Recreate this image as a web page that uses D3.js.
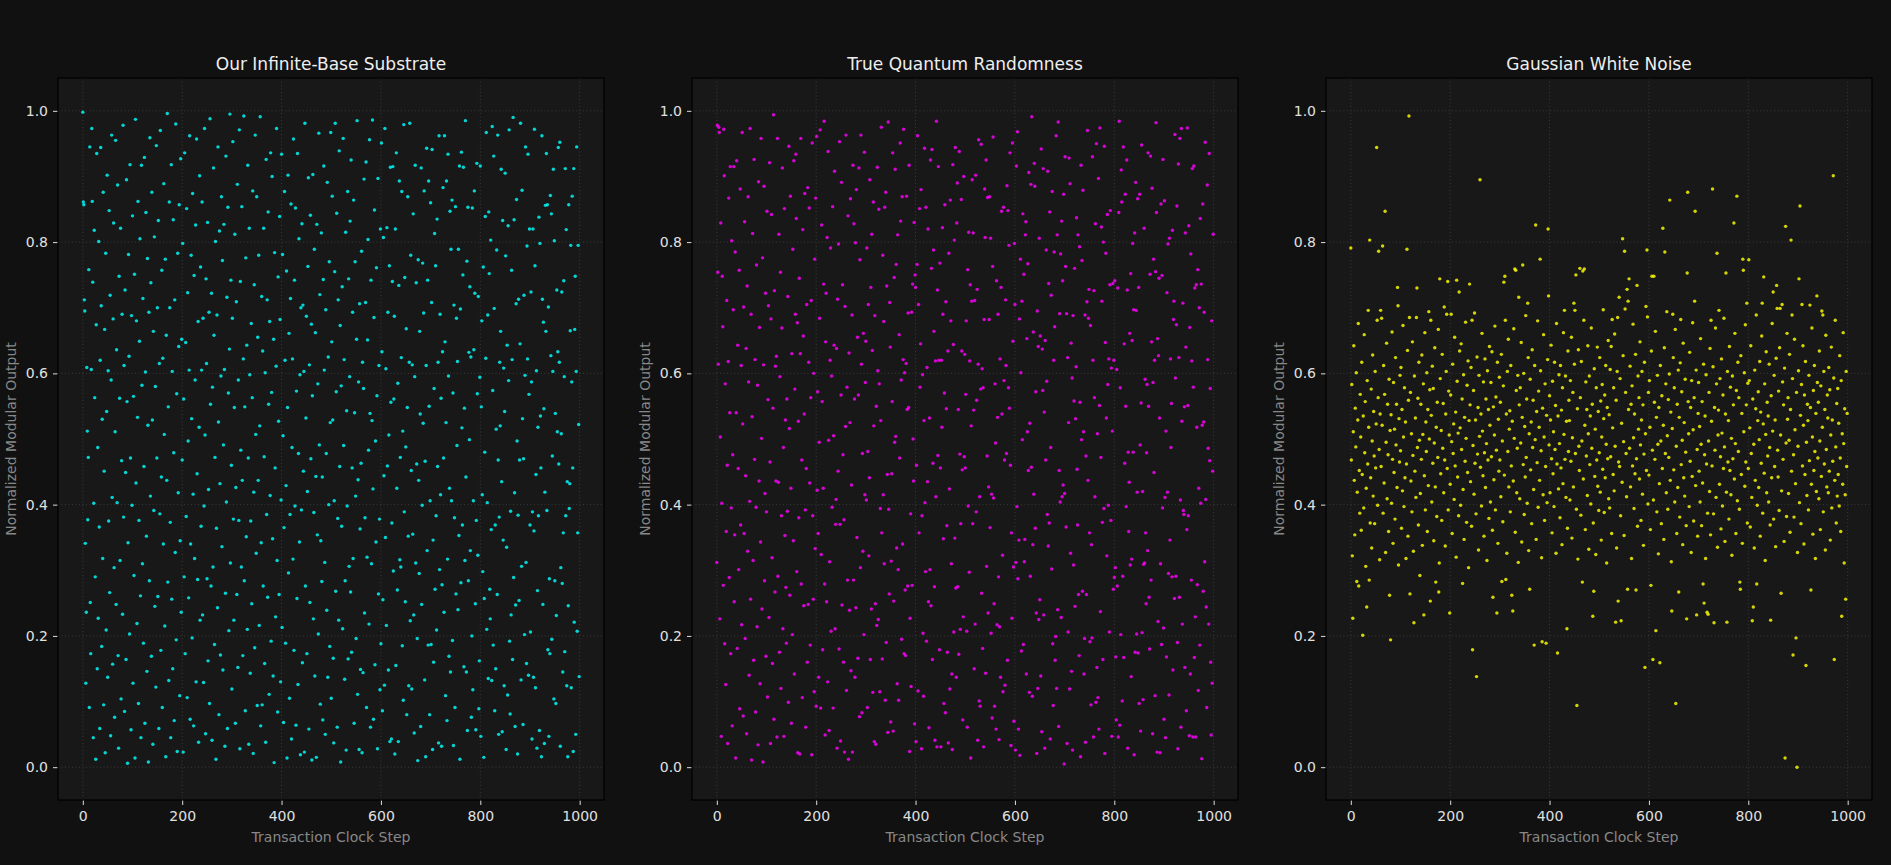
<!DOCTYPE html>
<html>
<head>
<meta charset="utf-8">
<script src="https://cdn.jsdelivr.net/npm/d3@7"></script>
<style>
  body { margin: 0; background: #111111; }
  svg { display: block; }
  text { font-family: "DejaVu Sans", sans-serif; }
</style>
</head>
<body>
<svg id="chart" width="1891" height="865"></svg>
<script>
// panel titles, colours and ticks
var titles = ["Our Infinite-Base Substrate", "True Quantum Randomness", "Gaussian White Noise"];
var colors = ["#00ffff", "#ff00ff", "#ffff00"];
var xTicks = [0, 200, 400, 600, 800, 1000];
var yTicks = [0, 0.2, 0.4, 0.6, 0.8, 1.0];

// outputs per clock step (index = step), in thousandths
var substrate = [
998,861,857,712,695,341,128,236,609,512,377,472,758,91,945,251,173,606,973,862,
739,45,402,818,563,290,12,674,935,150,487,227,801,366,59,620,944,703,184,530,
318,876,95,451,667,22,783,209,542,902,137,604,375,848,266,719,48,590,963,411,
157,683,829,304,76,511,955,248,636,403,887,170,29,748,562,315,821,104,467,690,
233,978,381,612,85,727,449,164,895,557,6,342,781,626,203,918,471,57,688,399,
840,128,565,292,751,14,987,433,680,219,533,862,97,376,649,805,261,45,917,582,
310,714,189,458,929,67,602,845,352,146,775,521,8,693,284,959,413,738,169,876,
529,35,664,391,808,245,580,122,947,471,700,260,833,59,615,386,970,178,442,757,
91,623,340,889,507,215,774,16,658,437,996,282,549,132,861,700,373,45,918,256,
603,150,834,479,71,712,327,980,194,569,24,783,418,641,857,109,345,927,236,652,
468,798,23,561,290,936,173,647,382,851,106,723,497,258,605,962,73,340,780,531,
197,874,416,63,749,318,590,826,130,957,447,286,679,38,518,901,224,762,367,605,
861,232,684,129,398,973,506,51,744,615,287,830,162,423,693,97,988,553,276,722,
41,579,305,913,658,187,472,801,12,364,689,243,945,526,80,817,432,171,596,869,
336,772,148,491,827,606,32,265,931,404,716,59,853,570,208,637,995,311,742,460,
119,684,953,378,224,548,812,67,426,709,263,888,152,590,376,971,28,740,483,305,
854,437,170,622,992,284,549,86,776,351,643,210,917,471,35,821,598,143,375,676,
249,563,878,21,419,735,182,963,507,326,869,94,655,437,780,216,520,991,63,342,
717,95,634,276,821,473,158,601,38,926,385,712,259,846,553,111,679,414,936,192,
571,900,348,139,652,7,784,456,229,611,973,315,84,747,527,263,839,682,130,407,
934,213,781,505,68,365,877,620,189,429,756,14,548,902,296,661,105,385,714,858,
43,487,622,317,957,178,742,398,852,64,573,257,935,126,478,805,343,598,19,700,
392,828,159,704,451,603,23,981,276,532,687,173,420,763,898,58,613,251,841,470,
675,11,566,903,226,388,789,139,662,443,15,827,354,584,203,966,491,720,96,345,
814,283,442,72,743,916,605,312,50,697,478,239,891,137,625,400,770,184,525,967,
105,648,870,529,166,37,406,755,981,268,572,844,61,379,712,224,939,458,673,8,
581,367,732,211,958,490,621,134,284,815,26,543,398,877,165,744,306,595,832,267,
925,175,456,693,318,864,67,540,770,413,196,652,985,111,438,587,27,706,363,149,
463,786,22,617,144,577,896,235,380,708,922,91,320,651,804,483,218,956,539,61,
742,310,528,986,424,73,685,849,156,497,343,761,566,28,897,264,612,378,118,820,
188,951,633,86,255,807,444,125,973,350,607,216,822,459,693,148,506,764,39,914,
556,43,372,740,915,299,561,687,20,820,155,936,425,270,585,39,734,893,316,472,
305,624,877,185,512,102,979,389,746,252,488,668,80,548,869,352,124,617,981,223,
780,452,119,613,355,843,232,52,595,917,311,738,462,196,10,773,437,295,664,538,
62,913,248,399,768,524,692,878,133,466,16,612,943,330,742,186,893,550,80,406,
860,187,708,941,27,346,160,577,813,271,764,383,209,835,458,617,37,962,301,690,
415,562,32,278,633,883,471,236,962,648,109,525,893,71,317,934,596,169,425,847,
145,789,406,864,193,570,33,704,380,91,854,264,684,490,618,240,789,353,916,12,
698,281,937,517,369,750,914,153,547,315,985,442,145,771,56,853,284,632,499,732,
330,625,76,200,852,118,406,636,878,722,249,57,376,920,569,323,717,89,162,594,
916,47,549,680,415,298,762,15,257,480,839,623,967,210,403,689,135,846,752,271,
226,803,362,132,976,574,186,931,699,86,369,150,515,788,263,963,468,50,381,617,
520,664,911,435,54,833,346,608,124,542,905,779,27,335,643,110,825,589,971,192,
81,390,232,757,621,164,990,289,834,418,62,247,706,865,497,20,384,713,254,468,
645,981,133,306,879,531,65,470,719,202,597,945,312,158,794,622,934,140,568,820,
369,206,724,587,43,389,820,137,360,972,764,121,446,604,29,269,518,383,838,56,
798,535,456,16,962,713,248,678,546,36,419,856,664,935,391,857,179,701,47,287,
173,871,627,843,195,474,603,911,104,802,284,539,97,231,727,511,633,944,462,617,
952,32,304,508,724,280,145,357,741,595,176,912,383,819,124,435,16,246,857,394,
432,665,795,121,587,870,456,24,912,221,667,748,50,603,945,207,357,795,522,138
];

var quantum = [
312,978,754,614,975,967,226,503,829,47,402,748,671,277,972,901,188,584,126,359,
711,460,36,618,867,289,540,915,173,395,802,63,476,697,915,252,354,785,14,540,
924,181,643,455,301,757,89,881,369,612,217,967,523,78,701,356,831,196,444,638,
51,733,329,869,587,140,405,973,256,690,11,534,813,315,163,926,469,621,84,396,
765,214,582,34,892,436,670,127,343,958,501,241,776,8,613,885,284,417,722,169,
389,847,107,560,703,228,921,465,36,683,842,319,158,547,994,73,726,267,611,436,
626,46,958,291,434,812,175,595,754,120,383,669,913,211,487,47,851,353,529,274,
189,561,390,717,99,946,516,262,870,425,67,630,202,789,345,924,142,576,690,934,
836,298,677,22,527,380,745,20,630,958,279,468,106,819,657,246,538,874,392,61,
455,705,160,883,248,617,852,433,186,563,711,19,951,383,256,600,115,774,333,867,
93,961,422,572,356,137,495,684,971,90,324,826,557,179,425,736,984,279,49,648,
722,252,807,130,938,498,56,313,620,791,207,596,396,854,90,505,643,908,211,370,
408,638,29,713,451,797,180,953,370,40,567,891,247,735,476,160,377,23,702,519,
963,117,579,285,840,12,631,239,525,866,147,430,689,23,917,285,828,561,137,799,
243,880,350,655,166,567,913,77,773,304,963,614,83,478,329,661,202,937,415,586,
649,407,791,91,481,705,322,441,895,164,731,241,812,635,114,861,520,39,688,249,
35,550,216,914,604,225,850,584,115,394,528,975,357,165,780,415,679,310,853,102,
876,190,733,446,53,983,393,264,708,640,69,314,447,557,936,55,253,746,495,911,
504,766,334,127,811,301,102,659,471,951,832,590,195,869,340,621,972,173,601,270,
170,615,870,545,276,692,548,917,24,227,386,123,693,277,736,500,436,830,66,750,
731,39,460,766,962,116,705,357,851,579,645,880,28,383,598,204,108,528,943,403,
298,853,192,609,435,820,252,60,532,301,925,246,760,941,164,463,788,664,275,41,
619,412,984,31,727,475,915,620,179,768,456,31,620,518,822,690,348,97,570,857,
83,709,546,368,175,634,37,783,424,119,864,680,310,142,27,918,644,206,803,349,
944,273,137,829,890,275,545,172,938,477,210,371,865,634,453,72,229,900,473,629,
456,568,680,207,61,758,398,815,297,619,735,14,520,710,895,371,814,544,150,711,
218,902,389,559,728,41,614,956,101,412,93,576,949,265,607,181,578,31,682,881,
807,143,925,306,474,868,235,427,682,869,365,806,204,416,75,763,960,410,249,93,
584,494,58,741,217,533,690,290,42,214,622,137,731,847,538,323,115,853,589,468,
125,712,612,478,886,163,848,578,795,547,936,460,33,357,227,951,649,305,70,798,
705,26,312,916,397,968,287,58,346,683,18,774,601,177,710,499,843,187,751,313,
347,811,831,142,653,511,767,452,906,114,524,291,888,457,991,108,339,663,416,920,
885,364,572,235,21,695,120,641,225,806,255,657,139,942,54,637,574,912,232,541,
29,650,468,788,588,385,908,337,737,372,846,43,487,719,302,877,188,94,620,785,
671,163,199,962,120,811,240,983,62,452,691,404,782,228,832,412,741,430,873,5,
417,930,763,366,691,36,624,206,525,928,119,889,326,646,146,593,26,688,308,558,
760,245,531,610,837,454,369,811,263,170,793,556,16,917,499,772,268,879,511,142,
196,689,38,474,263,709,970,437,684,728,357,191,673,95,339,197,930,620,46,726,
563,412,828,99,950,152,508,106,897,58,551,974,237,472,823,710,373,164,800,394,
946,21,647,783,532,322,842,583,399,622,206,735,848,376,608,47,512,737,271,620,
289,741,304,168,72,606,276,730,46,845,984,64,578,202,910,861,101,291,945,167,
645,463,873,550,397,925,727,29,480,359,434,661,308,752,138,317,650,798,480,697,
19,814,175,891,696,203,419,866,174,731,97,873,491,55,555,948,205,420,103,309,
821,311,591,357,249,479,583,330,936,550,259,180,751,931,285,648,882,51,586,774,
449,620,109,755,982,845,23,653,222,627,745,532,22,310,858,187,749,395,926,212,
73,863,411,45,512,168,723,419,797,295,110,806,346,622,487,554,290,818,148,682,
710,257,964,593,291,674,855,190,28,919,624,259,958,407,61,973,527,218,707,391,
385,549,152,814,640,86,362,974,551,383,825,48,670,142,782,285,619,912,46,579,
916,167,730,229,46,735,518,278,758,117,425,700,186,836,402,736,13,521,858,268,
526,693,313,952,408,244,91,887,621,486,218,935,467,577,160,49,680,128,451,812
];

var gaussian = [
791,468,583,322,227,511,642,437,354,547,488,601,283,419,529,676,276,452,387,568,
503,361,617,446,201,535,395,659,479,557,306,425,244,589,462,696,518,285,803,372,
441,576,334,497,628,413,542,474,371,603,456,523,944,681,399,563,786,484,316,538,
696,458,684,521,794,387,612,433,568,847,327,495,646,409,553,476,359,591,262,513,
194,537,402,663,469,341,586,449,515,378,624,491,553,426,731,703,308,531,465,597,
482,609,364,545,421,673,503,397,578,441,526,318,462,789,635,352,559,992,685,264,
571,436,508,389,648,475,329,220,596,451,532,411,685,730,487,562,369,617,498,292,
417,553,469,628,338,507,584,232,444,662,392,526,481,601,359,545,429,694,500,575,
253,681,536,404,611,463,577,345,494,639,427,282,518,382,556,472,667,267,311,744,
592,447,513,376,629,486,554,418,701,468,337,538,603,690,455,740,392,573,506,235,
431,567,690,496,356,614,478,523,408,655,459,541,320,742,588,442,509,383,724,634,
517,399,645,484,561,280,423,598,347,533,466,678,501,373,582,449,619,304,528,736,
552,435,609,367,681,179,490,574,416,692,463,529,386,138,625,477,548,331,597,504,
895,457,538,398,661,512,444,587,352,479,622,426,561,493,315,604,468,545,379,641,
521,404,586,473,633,361,259,549,438,506,672,392,564,483,235,617,341,530,451,594,
468,556,412,629,283,497,374,581,739,445,748,681,286,538,326,603,481,652,427,515,
543,389,612,459,262,527,238,436,668,501,759,358,757,574,418,486,597,312,716,552,
409,578,494,647,343,533,765,461,600,385,519,442,688,472,561,402,707,624,330,508,
271,591,453,526,371,636,487,559,423,186,612,499,826,347,542,464,680,396,573,518,
437,774,604,482,319,191,547,415,659,503,376,584,458,189,536,403,621,820,718,491,
566,418,529,643,470,357,588,447,511,397,617,484,551,326,676,462,174,535,424,598,
493,380,612,456,544,339,578,432,662,507,696,469,596,411,527,211,364,634,481,559,
528,407,589,466,655,349,502,571,427,707,614,696,478,750,393,94,546,317,636,489,
452,760,563,384,618,497,282,756,439,681,759,521,362,587,474,545,414,642,508,332,
596,461,535,401,669,486,553,230,372,268,607,443,515,324,578,468,640,428,542,391,
479,624,419,558,346,503,583,454,697,531,388,567,441,612,492,311,548,470,650,409,
537,395,606,473,641,356,682,517,446,578,421,660,489,221,559,334,603,685,253,465,
716,458,592,383,223,524,434,805,627,496,353,786,698,571,478,412,728,271,710,545,
744,486,611,427,553,318,581,459,675,502,394,538,447,629,270,470,734,367,596,515,
563,439,648,491,376,529,603,416,552,338,477,617,152,508,702,452,788,686,401,571,
445,589,518,362,277,634,748,483,164,407,748,556,469,664,208,533,389,597,492,325,
548,432,159,612,497,371,566,455,821,521,347,639,785,478,584,418,694,505,393,560,
472,599,864,437,541,313,238,516,690,624,453,578,404,667,97,489,356,553,426,605,
267,533,381,616,682,461,572,498,339,646,441,525,413,591,480,368,226,753,876,557,
508,397,632,466,548,327,589,443,677,514,375,563,710,847,429,605,232,484,352,539,
586,451,519,404,653,492,368,557,433,279,614,250,476,535,318,598,462,236,387,233,
497,571,420,638,354,681,527,459,881,610,386,220,548,483,669,411,584,783,335,506,
544,696,431,592,473,363,622,509,398,567,455,684,488,344,538,753,419,221,603,465,
528,378,641,452,579,415,501,323,596,470,552,829,439,661,493,356,574,870,406,617,
481,563,393,282,271,627,446,539,341,774,757,511,601,428,674,465,552,707,372,585,
455,773,589,517,366,642,478,411,223,561,244,492,334,605,437,546,689,279,399,528,
572,426,499,618,352,541,463,657,707,387,523,747,448,584,315,507,633,418,556,474,
535,404,614,487,369,224,566,441,676,512,724,378,597,458,529,336,623,734,699,483,
442,573,391,639,699,506,265,421,705,587,469,552,344,608,14,824,494,382,661,530,
563,417,498,629,358,545,803,451,689,592,171,476,381,652,514,432,197,571,0,327,
489,604,744,403,855,536,371,583,705,459,642,521,340,567,446,618,155,495,414,553,
528,392,597,467,704,548,270,431,669,503,355,574,452,612,481,318,539,420,718,586,
471,556,409,634,497,362,581,443,695,518,689,389,603,462,545,331,658,484,427,567,
532,418,609,451,575,346,506,640,395,529,466,901,593,164,437,681,488,372,554,413,
577,446,524,398,627,471,359,589,230,508,431,662,493,311,546,415,256,603,458,539
];

var series = [substrate, quantum, gaussian];

var panelX = [58, 692, 1326],
    panelW = 546,
    panelTop = 78,
    panelH = 722; // panel geometry

var xScale = d3.scaleLinear().domain([-49.95, 1048.95]).range([0, panelW]);
var yScale = d3.scaleLinear().domain([-0.05, 1.05]).range([panelH, 0]);

var svg = d3.select("#chart");

series.forEach(function(values, i) {
  var g = svg.append("g")
    .attr("transform", "translate(" + panelX[i] + "," + panelTop + ")");

  g.append("rect")
    .attr("width", panelW)
    .attr("height", panelH)
    .attr("fill", "#181818");

  // dotted grid
  g.append("g").selectAll("line").data(xTicks).enter().append("line")
    .attr("x1", function(d){ return xScale(d); })
    .attr("x2", function(d){ return xScale(d); })
    .attr("y1", 0).attr("y2", panelH)
    .attr("stroke", "#3a3a3a").attr("stroke-dasharray", "1,2.5");
  g.append("g").selectAll("line").data(yTicks).enter().append("line")
    .attr("y1", function(d){ return yScale(d); })
    .attr("y2", function(d){ return yScale(d); })
    .attr("x1", 0).attr("x2", panelW)
    .attr("stroke", "#3a3a3a").attr("stroke-dasharray", "1,2.5");

  // points
  g.append("g").selectAll("circle").data(values).enter().append("circle")
    .attr("cx", function(d, j){ return xScale(j); })
    .attr("cy", function(d){ return yScale(d / 1000); })
    .attr("r", 1.7)
    .attr("fill", colors[i])
    .attr("fill-opacity", 0.82);

  // axes
  var xa = g.append("g")
    .attr("transform", "translate(0," + panelH + ")")
    .call(d3.axisBottom(xScale).tickValues(xTicks).tickSize(5).tickPadding(6).tickFormat(d3.format("d")));
  var ya = g.append("g")
    .call(d3.axisLeft(yScale).tickValues(yTicks).tickSize(5).tickPadding(5).tickFormat(d3.format(".1f")));
  [xa, ya].forEach(function(a){
    a.select(".domain").remove();
    a.selectAll(".tick line").attr("stroke", "#dddddd");
    a.selectAll(".tick text").attr("fill", "#e0e0e0").style("font-size", "14px")
      .style("font-family", "DejaVu Sans, sans-serif");
  });

  // frame
  g.append("rect")
    .attr("width", panelW)
    .attr("height", panelH)
    .attr("fill", "none")
    .attr("stroke", "#000000")
    .attr("stroke-width", 1.2);

  g.append("text")
    .attr("x", panelW / 2).attr("y", -8)
    .attr("text-anchor", "middle")
    .attr("fill", "#eeeeee")
    .style("font-size", "17px")
    .text(titles[i]);

  g.append("text")
    .attr("x", panelW / 2).attr("y", panelH + 42)
    .attr("text-anchor", "middle")
    .attr("fill", "#888888")
    .style("font-size", "14px")
    .text("Transaction Clock Step");

  g.append("text")
    .attr("transform", "translate(-42," + (panelH / 2) + ") rotate(-90)")
    .attr("text-anchor", "middle")
    .attr("fill", "#888888")
    .style("font-size", "14px")
    .text("Normalized Modular Output");
});
</script>
</body>
</html>
